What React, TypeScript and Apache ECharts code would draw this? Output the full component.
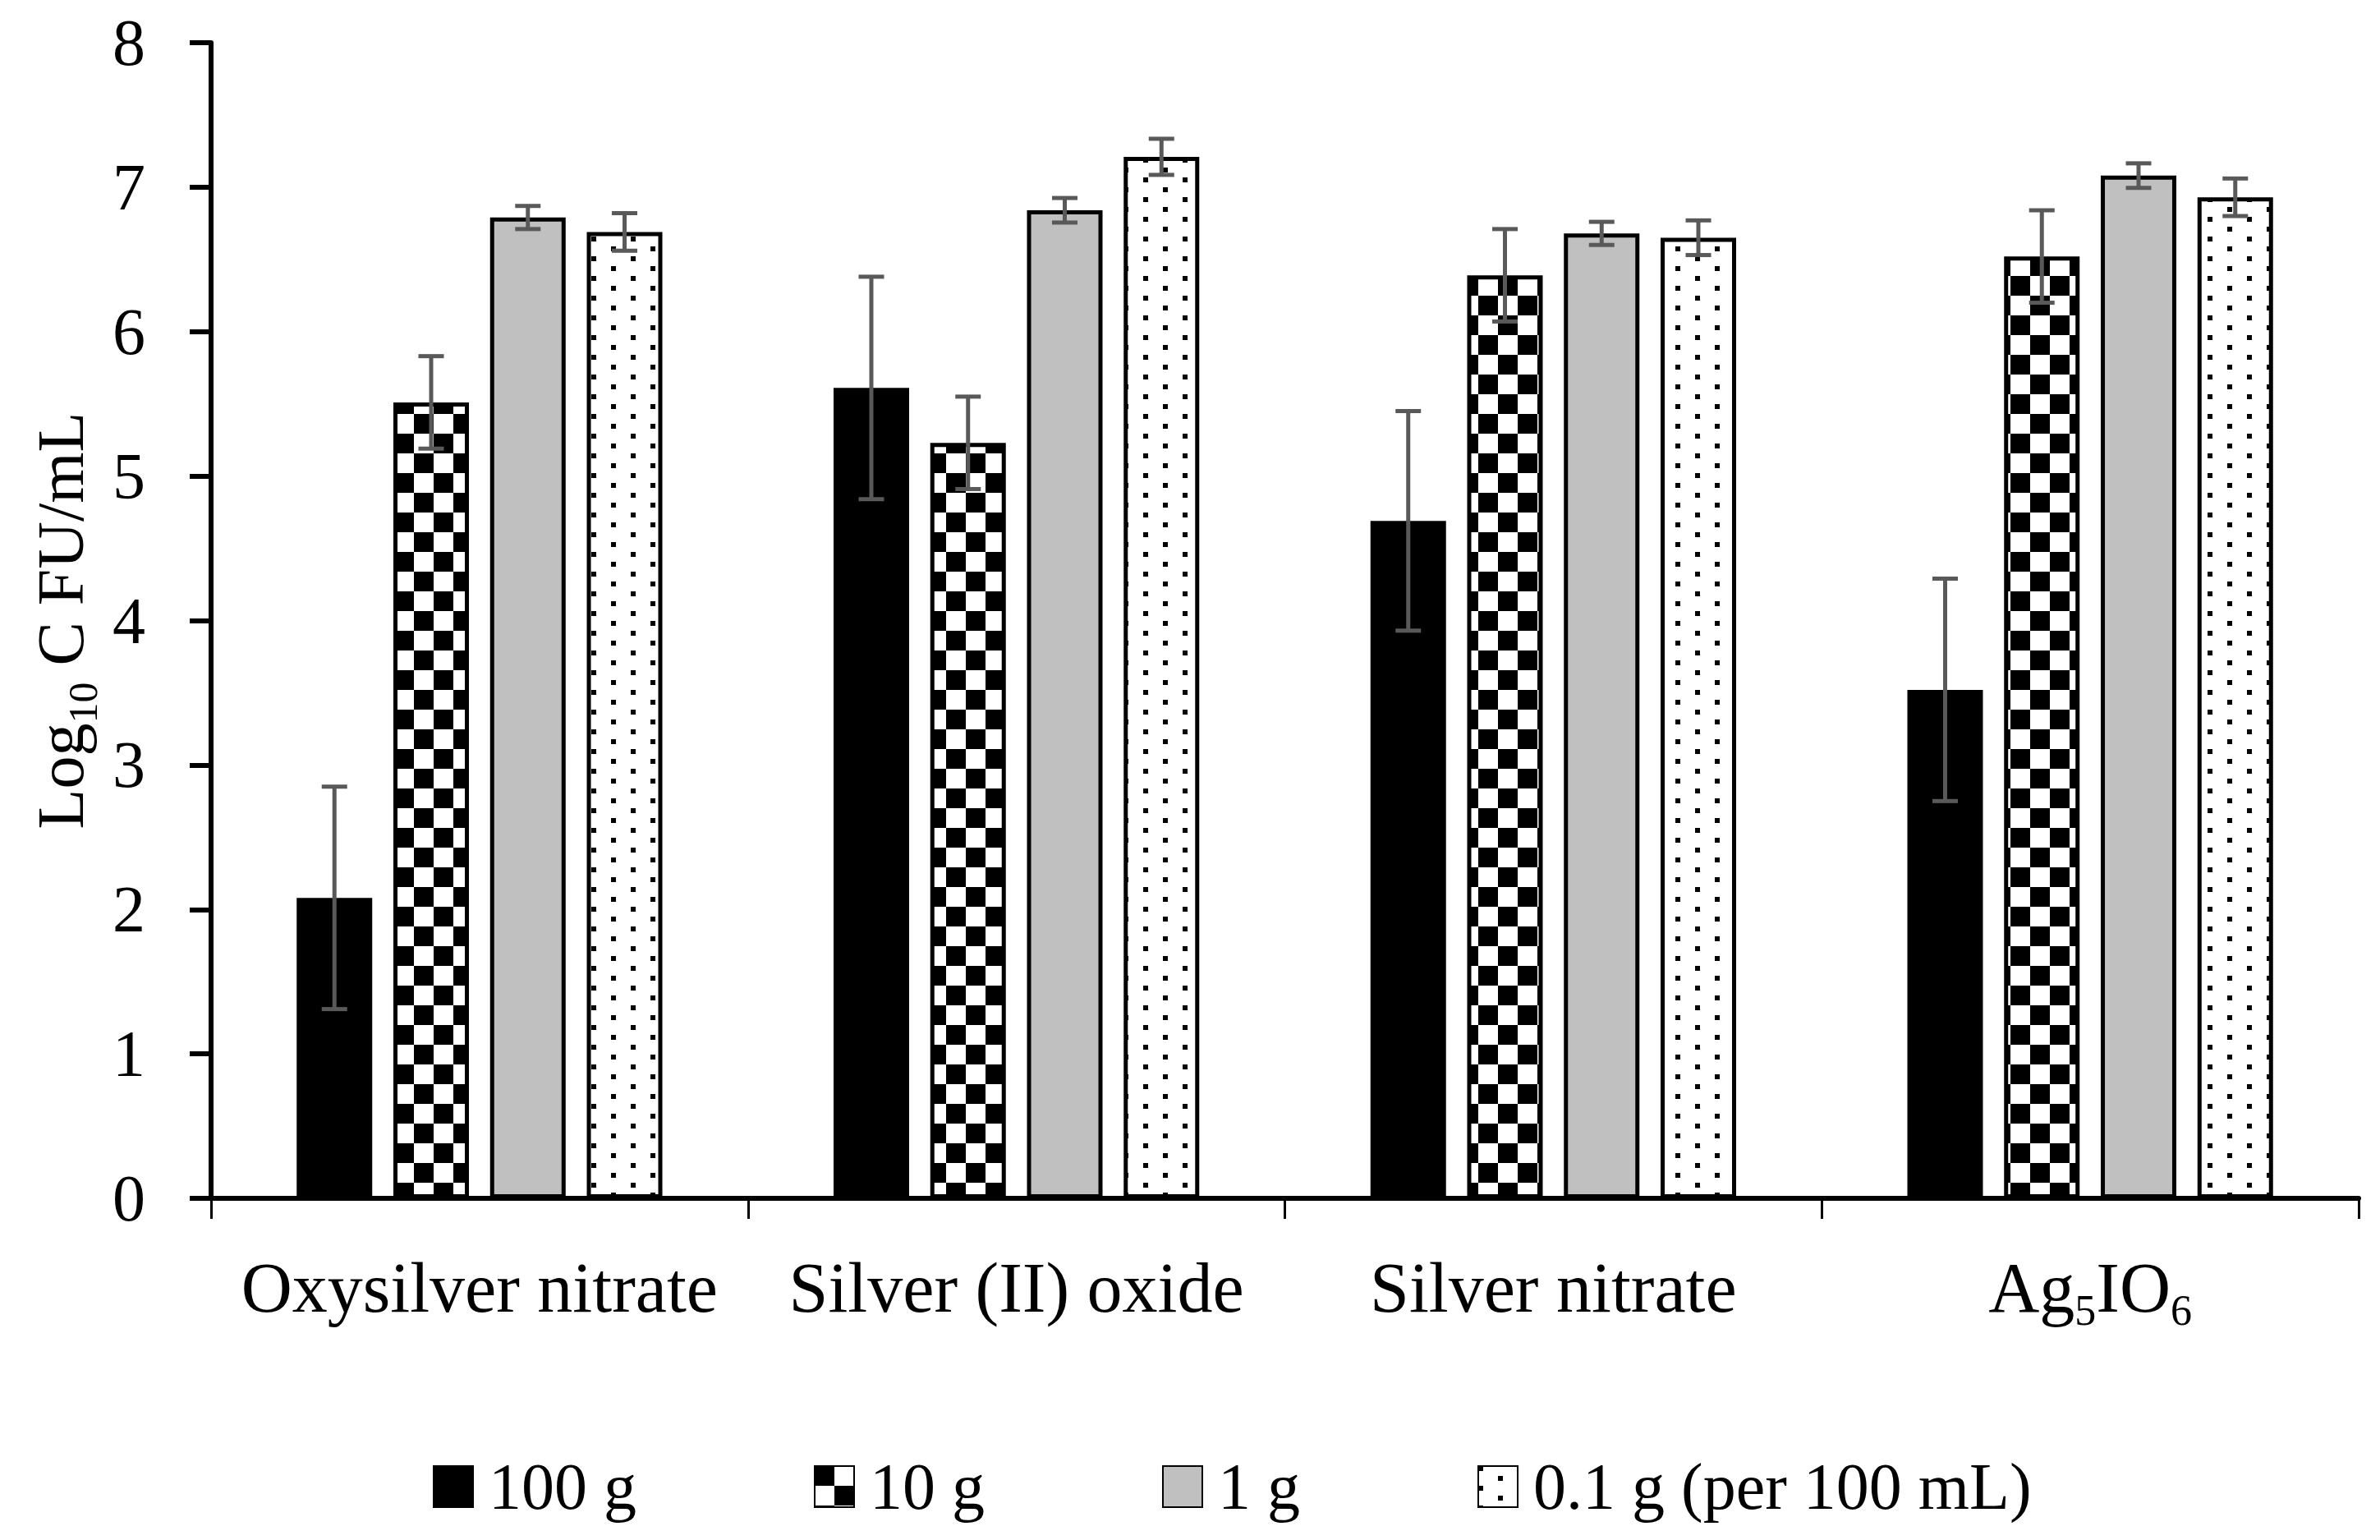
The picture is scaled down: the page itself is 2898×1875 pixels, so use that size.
import React, { useEffect, useRef } from "react";
import * as echarts from "echarts";

const categories = ["Oxysilver nitrate", "Silver (II) oxide", "Silver nitrate", "Ag5IO6"];
const seriesNames = ["100 g", "10 g", "1 g", "0.1 g (per 100 mL)"];

const mean100 = [2.08, 5.61, 4.69, 3.52];
const err100 = [0.77, 0.77, 0.76, 0.77];
const mean10 = [5.51, 5.23, 6.39, 6.52];
const err10 = [0.32, 0.32, 0.32, 0.32];
const mean1 = [6.79, 6.84, 6.68, 7.08];
const err1 = [0.08, 0.085, 0.08, 0.085];
const mean01 = [6.69, 7.21, 6.65, 6.93];
const err01 = [0.13, 0.125, 0.12, 0.13];

const yMin = 0;
const yMax = 8;
const yInterval = 1;

const FONT = "'Liberation Serif', 'Times New Roman', serif";
const BAR_W = 92;
const BAR_GAP = 0.28;

function makeCanvas(w: number, h: number, draw: (ctx: CanvasRenderingContext2D) => void) {
  const c = document.createElement("canvas");
  c.width = w;
  c.height = h;
  const ctx = c.getContext("2d")!;
  ctx.fillStyle = "#fff";
  ctx.fillRect(0, 0, w, h);
  ctx.fillStyle = "#000";
  draw(ctx);
  return c;
}

export default function App() {
  const ref = useRef<HTMLDivElement>(null);
  useEffect(() => {
    if (!ref.current) return;
    const chart = echarts.init(ref.current, undefined, { renderer: "svg" });

    const checker = makeCanvas(48, 48, (ctx) => {
      ctx.fillRect(0, 0, 24, 24);
      ctx.fillRect(24, 24, 24, 24);
    });
    const dots = makeCanvas(48, 24, (ctx) => {
      ctx.fillRect(0, 0, 6, 6);
      ctx.fillRect(24, 12, 6, 6);
    });

    const fills: any[] = [
      "#000000",
      { image: checker, repeat: "repeat", imageWidth: 48, imageHeight: 48 },
      "#C0C0C0",
      { image: dots, repeat: "repeat", imageWidth: 48, imageHeight: 24 },
    ];
    const means = [mean100, mean10, mean1, mean01];
    const errs = [err100, err10, err1, err01];
    const pitch = BAR_W * (1 + BAR_GAP);

    const barSeries = seriesNames.map((name, i) => ({
      name,
      type: "bar",
      barWidth: BAR_W,
      barGap: BAR_GAP * 100 + "%",
      data: means[i],
      itemStyle: { color: fills[i], borderColor: "#000", borderWidth: 5 },
      z: 2,
    }));

    const errSeries = seriesNames.map((name, i) => {
      const offset = (i - 1.5) * pitch;
      return {
        name: "err-" + name,
        type: "custom",
        z: 5,
        encode: { x: 0, y: 1 },
        data: categories.map((_, k) => [k, means[i][k], errs[i][k]]),
        renderItem: (params: any, api: any) => {
          const ci = api.value(0);
          const m = api.value(1);
          const e = api.value(2);
          const c = api.coord([ci, m]);
          const x = c[0] + offset;
          const yt = api.coord([ci, m + e])[1];
          const yb = api.coord([ci, m - e])[1];
          const style = { stroke: "#595959", lineWidth: 5 };
          return {
            type: "group",
            children: [
              { type: "line", shape: { x1: x, y1: yt, x2: x, y2: yb }, style },
              { type: "line", shape: { x1: x - 15.5, y1: yt, x2: x + 15.5, y2: yt }, style },
              { type: "line", shape: { x1: x - 15.5, y1: yb, x2: x + 15.5, y2: yb }, style },
            ],
          };
        },
      };
    });

    const option: any = {
      animation: false,
      backgroundColor: "#fff",
      textStyle: { fontFamily: FONT, color: "#000" },
      grid: { left: 257, top: 52, right: 26, bottom: 416, outerBoundsMode: "none" },
      legend: {
        data: seriesNames,
        left: 527,
        top: 1770,
        padding: 0,
        itemWidth: 48,
        itemHeight: 50,
        itemGap: 216,
        icon: "rect",
        textStyle: { fontFamily: FONT, fontSize: 80, color: "#000", padding: [0, 0, 0, 14] },
      },
      xAxis: {
        type: "category",
        data: categories,
        axisLine: { show: true, lineStyle: { color: "#000", width: 6 } },
        axisTick: { show: true, length: 25, lineStyle: { color: "#000", width: 3 } },
        axisLabel: {
          margin: 66,
          fontFamily: FONT,
          fontSize: 86,
          color: "#000",
          lineHeight: 86,
          interval: 0,
          formatter: (v: string) => (v === "Ag5IO6" ? "{b|Ag}{sub|5}{b|IO}{sub|6}" : v),
          rich: {
            b: { fontFamily: FONT, fontSize: 86, color: "#000", lineHeight: 86, verticalAlign: "top" },
            sub: {
              fontFamily: FONT,
              fontSize: 52,
              color: "#000",
              lineHeight: 52,
              verticalAlign: "top",
              padding: [44, 0, 0, 0],
            },
          },
        },
        splitLine: { show: false },
      },
      yAxis: {
        type: "value",
        min: yMin,
        max: yMax,
        interval: yInterval,
        name: "{b|Log}{sub|10}{b| C FU/mL}",
        nameLocation: "middle",
        nameGap: 138,
        nameTextStyle: {
          fontFamily: FONT,
          fontSize: 80,
          color: "#000",
          rich: {
            b: { fontFamily: FONT, fontSize: 80, color: "#000", lineHeight: 80, verticalAlign: "top" },
            sub: {
              fontFamily: FONT,
              fontSize: 50,
              color: "#000",
              lineHeight: 50,
              verticalAlign: "top",
              padding: [42, 0, 0, 0],
            },
          },
        },
        axisLine: { show: true, lineStyle: { color: "#000", width: 6 } },
        axisTick: { show: true, length: 26, lineStyle: { color: "#000", width: 6 } },
        axisLabel: { margin: 80, fontFamily: FONT, fontSize: 80, color: "#000" },
        splitLine: { show: false },
      },
      series: [...barSeries, ...errSeries],
    };
    chart.setOption(option);
    return () => chart.dispose();
  }, []);

  return (
    <div
      ref={ref}
      style={{ position: "fixed", left: 0, top: 0, width: 2898, height: 1875, background: "#fff" }}
    />
  );
}
